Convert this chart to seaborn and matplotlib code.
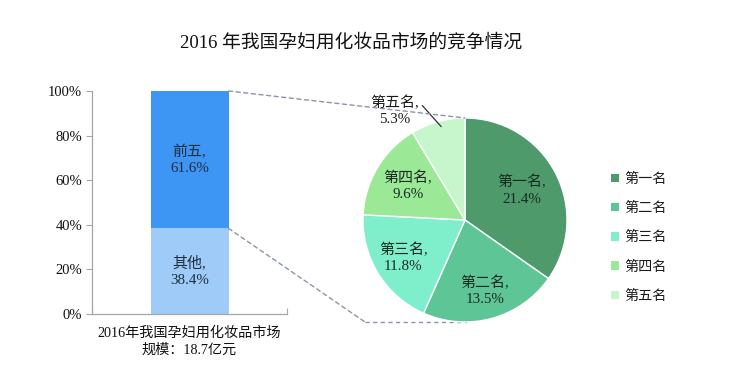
import matplotlib
matplotlib.use("Agg")
import matplotlib.pyplot as plt
from matplotlib.patches import Patch, ConnectionPatch
import numpy as np
import pandas as pd
import seaborn as sns

sns.set_theme(style="white")
FAM = ['Liberation Serif', 'Noto Sans CJK SC', 'DejaVu Sans']
plt.rcParams['font.family'] = FAM

# ---------------- data ----------------
title = "2016 年我国孕妇用化妆品市场的竞争情况"
bar_category = "2016年我国孕妇用化妆品市场\n规模：18.7亿元"
bar_parts = ["其他", "前五"]
bar_values = [38.4, 61.6]
bar_colors = ["#9ECBF8", "#3D95F4"]

pie_labels = ["第一名", "第二名", "第三名", "第四名", "第五名"]
pie_values = [21.4, 13.5, 11.8, 9.6, 5.3]
pie_colors = ["#4E9A6B", "#5EC597", "#7FEECB", "#9BE896", "#C8F6CC"]

yticks = [0, 20, 40, 60, 80, 100]

# ---------------- figure ----------------
fig = plt.figure(figsize=(7.37, 3.82), dpi=100)
fig.patch.set_facecolor("white")

# ---- stacked bar ----
axb = fig.add_axes([92 / 737, 68 / 382, 195 / 737, 223 / 382])
cum = np.cumsum(bar_values)
df = pd.DataFrame({"cat": [bar_category] * 2, "part": bar_parts,
                   "value": bar_values, "top": cum})
# draw from top layer down so lower layers overlay
for i in reversed(range(len(df))):
    sns.barplot(data=df.iloc[[i]], x="cat", y="top", color=bar_colors[i],
                width=0.4, ax=axb, saturation=1, edgecolor="none")
bottoms = cum - np.array(bar_values)
for i, (p, v) in enumerate(zip(bar_parts, bar_values)):
    axb.text(0, bottoms[i] + v / 2, f"{p},\n{v:.1f}%", ha="center", va="center",
             fontsize=10.8, color="#1F2D3D", family=FAM, linespacing=1.3)
axb.set_xlim(-0.5, 0.5)
axb.set_ylim(0, 100)
axb.set_yticks(yticks)
axb.set_yticklabels([f"{t}%" for t in yticks], fontsize=10.5, color="#111111")
axb.set_xlabel("")
axb.set_ylabel("")
axb.tick_params(axis="x", length=0, labelsize=10.2, colors="#111111", pad=9)
axb.tick_params(axis="y", direction="out", length=4, width=0.8, color="#A6A6A6", left=True, pad=3)
axb.set_xticks([-0.5, 0.5], minor=True)
axb.tick_params(axis="x", which="minor", direction="in", length=4, width=0.8,
                color="#A6A6A6", bottom=True)
for lab in axb.get_xticklabels():
    lab.set_linespacing(1.3)
for s in ["top", "right"]:
    axb.spines[s].set_visible(False)
for s in ["left", "bottom"]:
    axb.spines[s].set_color("#A6A6A6")
    axb.spines[s].set_linewidth(0.9)

# ---- pie ----
axp = fig.add_axes([363 / 737, 60 / 382, 204 / 737, 204 / 382])
wedges, _ = axp.pie(pie_values, colors=pie_colors, startangle=90, counterclock=False,
                    radius=1.0, wedgeprops=dict(linewidth=1.0, edgecolor="white"))
axp.set_xlim(-1, 1)
axp.set_ylim(-1, 1)
axp.set_aspect("equal")
axp.axis("off")

dists = [0.63, 0.72, 0.71, 0.65]
for i, (w, lab, v) in enumerate(zip(wedges, pie_labels, pie_values)):
    ang = np.deg2rad((w.theta1 + w.theta2) / 2)
    if i < 4:
        r = dists[i]
        axp.text(r * np.cos(ang), r * np.sin(ang), f"{lab},\n{v:.1f}%",
                 ha="center", va="center", fontsize=10.8, color="#1A2A22",
                 family=FAM, linespacing=1.3)
    else:
        axp.annotate(f"{lab},\n{v:.1f}%", xy=(0.95 * np.cos(ang) + 0.02, 0.95 * np.sin(ang)),
                     xytext=(-0.69, 1.07), ha="center", va="center",
                     fontsize=10.8, color="#1A1A1A", family=FAM, linespacing=1.3,
                     annotation_clip=False,
                     arrowprops=dict(arrowstyle="-", color="#333333", lw=0.9,
                                     relpos=(0.97, 0.85), shrinkA=0, shrinkB=0))

# ---- connectors ----
dash = dict(color="#8A96A8", lw=1.0, linestyle=(0, (3, 2.5)))
c1 = ConnectionPatch(xyA=(0.2, 100), coordsA=axb.transData,
                     xyB=(0.0, 1.0), coordsB=axp.transData, **dash)
fig.add_artist(c1)
c2 = ConnectionPatch(xyA=(0.2, bar_values[0]), coordsA=axb.transData,
                     xyB=(-0.98, -1.0), coordsB=axp.transData, **dash)
fig.add_artist(c2)
axp.plot([-0.98, 0.02], [-1.0, -1.0], clip_on=False, zorder=0, **dash)

# ---- legend ----
handles = [Patch(facecolor=c, edgecolor="none") for c in pie_colors]
leg = fig.legend(handles, pie_labels, loc="upper left",
                 bbox_to_anchor=(598 / 737, 1 - 160 / 382), frameon=False,
                 handlelength=0.55, handleheight=0.55, handletextpad=0.4,
                 labelspacing=1.14, prop=dict(family=FAM, size=10.2))
for t in leg.get_texts():
    t.set_color("#1A1A1A")

fig.text(351 / 737, 1 - 43 / 382, title, ha="center", va="center",
         fontsize=13.5, color="#111111", family=FAM)

fig.savefig("out.png", dpi=100, facecolor="white")
